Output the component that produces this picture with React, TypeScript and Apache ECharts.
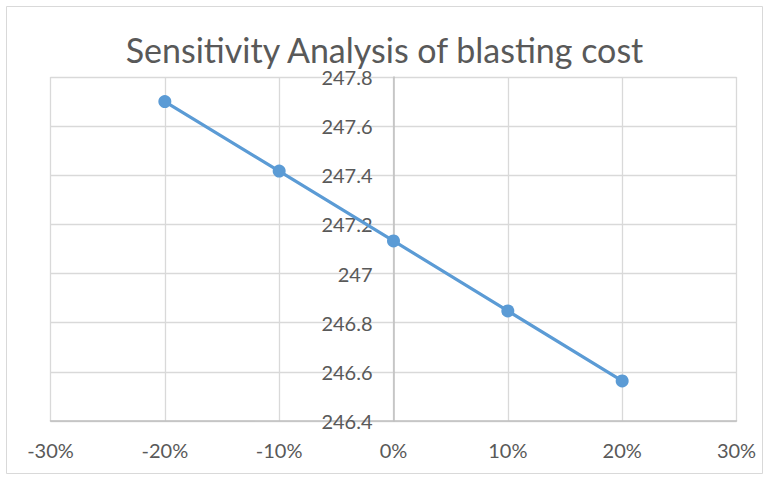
import React, { useEffect, useRef } from "react";
import * as echarts from "echarts";

const changePct = [-20, -10, 0, 10, 20];
const costValues = [247.7, 247.417, 247.133, 246.848, 246.563];
const titleText = "Sensitivity Analysis of blasting cost";

export default function App() {
  const ref = useRef<HTMLDivElement>(null);
  useEffect(() => {
    if (!ref.current) return;
    const chart = echarts.init(ref.current, null, { renderer: "svg" });
    const labelColor = "#595959";
    const gridLeft = 50.5;
    const gridRight = 32.5;
    const plotWidth = 769 - gridLeft - gridRight;
    const xMin = -30;
    const xMax = 30;
    const yAxisShift = -((0 - xMin) / (xMax - xMin)) * plotWidth;
    chart.setOption({
      animation: false,
      backgroundColor: "#ffffff",
      title: {
        text: titleText,
        left: "center",
        top: 27,
        textStyle: { fontFamily: "Lato", fontSize: 34, fontWeight: "normal", color: labelColor },
      },
      graphic: [
        {
          type: "rect",
          shape: { x: 6.5, y: 6.5, width: 756, height: 467 },
          style: { fill: "none", stroke: "#d9d9d9", lineWidth: 1 },
          silent: true,
        },
      ],
      grid: { left: gridLeft, right: gridRight, top: 77, bottom: 59, containLabel: false, outerBoundsMode: "none" },
      xAxis: {
        type: "value",
        min: xMin,
        max: xMax,
        interval: 10,
        axisLine: { lineStyle: { color: "#bfbfbf", width: 1.5 } },
        axisTick: { show: false },
        axisLabel: {
          formatter: (v: number) => `${Math.round(v)}%`,
          color: labelColor,
          fontFamily: "Lato",
          fontSize: 20,
          margin: 19,
        },
        splitLine: { show: true, lineStyle: { color: "#d9d9d9", width: 1.3 } },
      },
      yAxis: {
        type: "value",
        min: 246.4,
        max: 247.8,
        interval: 0.2,
        offset: yAxisShift,
        axisLine: { show: true, onZero: false, lineStyle: { color: "#bfbfbf", width: 1.5 } },
        axisTick: { show: false },
        axisLabel: {
          formatter: (v: number) => String(parseFloat(v.toFixed(1))),
          color: labelColor,
          fontFamily: "Lato",
          fontSize: 20,
          margin: 21,
        },
        splitLine: { show: true, lineStyle: { color: "#d9d9d9", width: 1.3 } },
      },
      series: [
        {
          type: "line",
          data: changePct.map((x, i) => [x, costValues[i]]),
          symbol: "circle",
          symbolSize: 13,
          lineStyle: { color: "#5b9bd5", width: 3.2 },
          itemStyle: { color: "#5b9bd5" },
        },
      ],
    });
    return () => chart.dispose();
  }, []);
  return (
    <div
      ref={ref}
      style={{ position: "fixed", left: 0, top: 0, width: 769, height: 480 }}
    />
  );
}
